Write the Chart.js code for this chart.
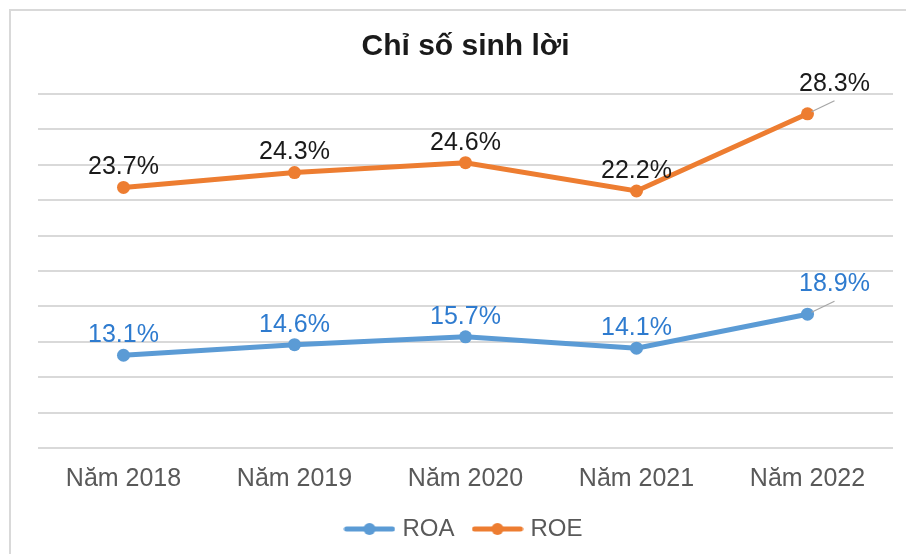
<!DOCTYPE html>
<html>
<head>
<meta charset="utf-8">
<script src="https://cdn.jsdelivr.net/npm/chart.js@4/dist/chart.umd.min.js"></script>
<style>
  html, body { margin: 0; padding: 0; background: #fff; }
  #wrap { width: 906px; height: 554px; position: relative; }
</style>
</head>
<body>
<div id="wrap"><canvas id="chart"></canvas></div>
<script>
// Chart data
const years = ['Năm 2018', 'Năm 2019', 'Năm 2020', 'Năm 2021', 'Năm 2022'];
const roa = [13.1, 14.6, 15.7, 14.1, 18.9];
const roe = [23.7, 24.3, 24.6, 22.2, 28.3];

const blue = '#5B9BD5';
const orange = '#ED7D31';
const fontFamily = '"Liberation Sans", Arial, sans-serif';

// legend marker: short line with a dot in the middle
function legendMarker(color) {
    const c = document.createElement('canvas');
    c.width = 52;
    c.height = 14;
    const g = c.getContext('2d');
    g.strokeStyle = color;
    g.lineWidth = 5;
    g.lineCap = 'round';
    g.beginPath();
    g.moveTo(3, 7);
    g.lineTo(49, 7);
    g.stroke();
    g.fillStyle = color;
    g.beginPath();
    g.arc(26, 7, 6, 0, Math.PI * 2);
    g.fill();
    return c;
}

// outer frame (only left/top visible in the picture)
const framePlugin = {
    id: 'frame',
    beforeDraw(chart) {
        const ctx = chart.ctx;
        ctx.save();
        ctx.strokeStyle = '#d9d9d9';
        ctx.lineWidth = 2;
        ctx.beginPath();
        ctx.moveTo(10, chart.height);
        ctx.lineTo(10, 10);
        ctx.lineTo(chart.width, 10);
        ctx.stroke();
        ctx.restore();
    }
};

// value labels above each point, last one pushed out with a leader line
const labelPlugin = {
    id: 'valueLabels',
    afterDatasetsDraw(chart) {
        const ctx = chart.ctx;
        ctx.save();
        ctx.font = '25px ' + fontFamily;
        ctx.textAlign = 'center';
        ctx.textBaseline = 'middle';
        chart.data.datasets.forEach((ds, di) => {
            const meta = chart.getDatasetMeta(di);
            meta.data.forEach((pt, i) => {
                let dx = 0, dy = -20;
                const last = i === ds.data.length - 1;
                if (last) {
                    dx = 27;
                    dy = -30;
                    ctx.strokeStyle = '#a6a6a6';
                    ctx.lineWidth = 1.2;
                    ctx.beginPath();
                    ctx.moveTo(pt.x + 4, pt.y - 2);
                    ctx.lineTo(pt.x + 27, pt.y - 13);
                    ctx.stroke();
                }
                ctx.fillStyle = ds.labelColor;
                ctx.fillText(ds.data[i].toFixed(1) + '%', pt.x + dx, pt.y + dy);
            });
        });
        ctx.restore();
    }
};

new Chart(document.getElementById('chart'), {
    type: 'line',
    data: {
        labels: years,
        datasets: [{
            label: 'ROA',
            data: roa,
            borderColor: blue,
            backgroundColor: blue,
            borderWidth: 5,
            pointRadius: 6.5,
            pointBackgroundColor: blue,
            pointBorderWidth: 0,
            tension: 0,
            labelColor: '#2E7BCF',
            pointStyle: 'circle',
            legendStyle: legendMarker(blue)
        }, {
            label: 'ROE',
            data: roe,
            borderColor: orange,
            backgroundColor: orange,
            borderWidth: 5,
            pointRadius: 6.5,
            pointBackgroundColor: orange,
            pointBorderWidth: 0,
            tension: 0,
            labelColor: '#1a1a1a',
            pointStyle: 'circle',
            legendStyle: legendMarker(orange)
        }]
    },
    options: {
        responsive: true,
        maintainAspectRatio: false,
        animation: false,
        layout: {
            padding: { left: 38, right: 13, top: 10, bottom: 3 }
        },
        plugins: {
            title: {
                display: true,
                text: 'Chỉ số sinh lời',
                color: '#1a1a1a',
                font: { family: fontFamily, size: 30, weight: 'bold' },
                padding: { top: 19, bottom: 29 }
            },
            legend: {
                position: 'bottom',
                labels: {
                    usePointStyle: true,
                    pointStyleWidth: 42,
                    padding: 22,
                    color: '#595959',
                    font: { family: fontFamily, size: 24 },
                    generateLabels(chart) {
                        return chart.data.datasets.map((ds, i) => ({
                            text: ds.label,
                            pointStyle: ds.legendStyle,
                            fontColor: '#595959',
                            lineWidth: 0,
                            datasetIndex: i,
                            hidden: false
                        }));
                    }
                }
            },
            tooltip: { enabled: false }
        },
        scales: {
            x: {
                offset: true,
                grid: { display: false },
                border: { display: false },
                ticks: {
                    color: '#595959',
                    padding: 8,
                    font: { family: fontFamily, size: 25 }
                },
                afterFit(scale) { scale.height = 47; }
            },
            y: {
                stacked: true,
                min: 0,
                max: 50,
                ticks: { display: false, stepSize: 5 },
                grid: { color: '#d9d9d9', lineWidth: 2, drawTicks: false },
                border: { display: false },
                afterFit(scale) { scale.width = 0; }
            }
        }
    },
    plugins: [framePlugin, labelPlugin]
});
</script>
</body>
</html>
